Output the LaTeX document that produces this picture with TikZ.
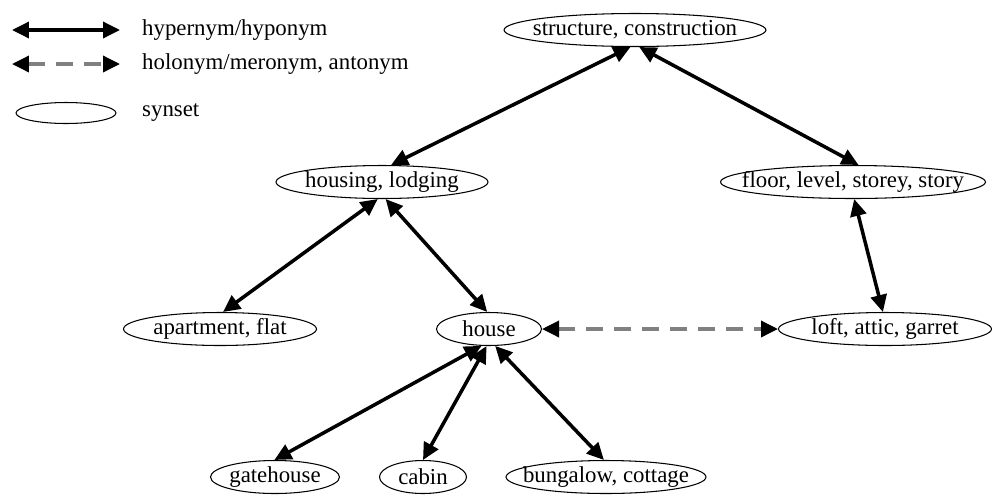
\documentclass[tikz,border=0pt]{standalone}
\usepackage{fontspec}
\setmainfont{Liberation Serif}
\usetikzlibrary{shapes.geometric,arrows.meta}

\begin{document}
\begin{tikzpicture}[x=0.02cm, y=-0.02cm,
		font=\fontsize{13}{15}\selectfont,
		syn/.style={draw, ellipse, line width=0.6pt, inner xsep=-2cm, inner ysep=0pt, minimum height=0.66cm},
		hyp/.style={line width=2pt, {Triangle[length=0.34cm,width=0.32cm]}-{Triangle[length=0.34cm,width=0.32cm]}},
		mer/.style={line width=2pt, gray, dash pattern=on 0.34cm off 0.22cm, {Triangle[length=0.34cm,width=0.32cm,black]}-{Triangle[length=0.34cm,width=0.32cm,black]}}]
				\useasboundingbox (0,0) rectangle (998,495);
				
				% Legend
				\coordinate (hypA) at (12,30);
				\coordinate (hypB) at (120,30);
				\draw[hyp] (hypA) -- (hypB);
				\node[anchor=west] (hypT) at (136,30) {hypernym/hyponym};
				
				\coordinate (merA) at (12,64);
				\coordinate (merB) at (120,64);
				\draw[mer] (merA) -- (merB);
				\node[anchor=west] (merT) at (136,64) {holonym/meronym, antonym};
				
				\node[syn, minimum width=2cm, minimum height=0.42cm] (synL) at (66,113) {};
				\node[anchor=west] (synT) at (136,113) {synset};
				
				% Synsets
				\node[syn, minimum width=5.24cm] (struct) at (635,30) {structure, construction};
				
				\node[syn, minimum width=4.24cm] (housing) at (382,182) {housing, lodging};
				\node[syn, minimum width=5.3cm] (floor) at (853,182) {floor, level, storey, story};
				
				\node[syn, minimum width=3.86cm] (apart) at (220,329) {apartment, flat};
				\node[syn, minimum width=2.1cm] (house) at (489,329) {house};
				\node[syn, minimum width=4.26cm] (loft) at (885,329) {loft, attic, garret};
				
				\node[syn, minimum width=2.58cm] (gate) at (275,477) {gatehouse};
				\node[syn, minimum width=1.74cm] (cabin) at (423,477) {cabin};
				\node[syn, minimum width=4.0cm] (bung) at (606,477) {bungalow, cottage};
				
				% Relations
				\draw[hyp] (struct.255) -- (housing.62);
				\draw[hyp] (struct.284) -- (floor.72);
				\draw[hyp] (housing.256) -- (apart.80);
				\draw[hyp] (housing.282) -- (house.96);
				\draw[hyp] (floor.274) -- (loft.97);
				\draw[mer] (house.east) -- (loft.west); % part of
				\draw[hyp] (house.246) -- (gate.92);
				\draw[hyp] (house.262) -- (cabin.90);
				\draw[hyp] (house.290) -- (bung.97);
			\end{tikzpicture}
\end{document}
